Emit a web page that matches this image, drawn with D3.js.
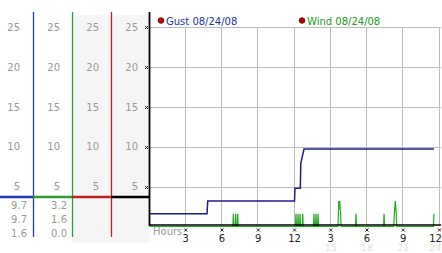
<!DOCTYPE html>
<html>
<head>
<meta charset="utf-8">
<script src="https://cdn.jsdelivr.net/npm/d3@7"></script>
<style>
  body { margin: 0; background: #fff; }
  svg { display: block; font-family: "DejaVu Sans", Verdana, sans-serif; }
</style>
</head>
<body>
<svg id="chart" width="442" height="253"></svg>
<script>
// y ticks shared by the side panel and the plot
var yTicks = [5, 10, 15, 20, 25];

// x axis: hours of the day
var hourTicks = [3, 6, 9, 12, 15, 18, 21, 24];
var hourLabels = ['3', '6', '9', '12', '3', '6', '9', '12'];
var hour24Labels = ['', '', '', '', '15', '18', '21', '24'];

// legend
var seriesNames = ['Gust 08/24/08', 'Wind 08/24/08'];

// side panel stats (current, max, min)
var gustStats = ['9.7', '9.7', '1.6'];
var windStats = ['3.2', '1.6', '0.0'];

// gust, [hour, mph]
var gust = [
  [0, 1.6], [4.76, 1.6], [4.82, 3.2], [12.0, 3.2], [12.04, 4.8],
  [12.48, 4.8], [12.52, 7.9], [12.62, 8.6], [12.79, 9.7], [23.54, 9.7]
];

// wind, [hour, mph]
var wind = [
  [0, 0],
  [6.9, 0], [6.94, 1.6], [6.98, 0], [7.09, 0], [7.13, 1.6], [7.17, 0],
  [7.26, 0], [7.30, 1.6], [7.34, 0],
  [12.08, 0], [12.12, 1.6], [12.16, 0], [12.25, 0], [12.29, 1.6], [12.33, 0],
  [12.42, 0], [12.46, 1.6], [12.5, 0], [12.64, 0], [12.68, 1.6], [12.72, 0],
  [13.57, 0], [13.61, 1.6], [13.65, 0], [13.74, 0], [13.78, 1.6], [13.82, 0],
  [13.91, 0], [13.95, 1.6], [13.99, 0],
  [15.6, 0], [15.63, 1.6], [15.66, 3.2], [15.7, 2.2], [15.74, 3.2],
  [15.78, 2.2], [15.82, 1.6], [15.85, 0],
  [17.05, 0], [17.09, 1.6], [17.13, 0],
  [19.37, 0], [19.41, 1.6], [19.45, 0],
  [20.22, 0], [20.26, 1.6], [20.34, 3.2], [20.42, 1.6], [20.46, 0],
  [23.5, 0], [23.54, 1.6]
];

var svg = d3.select('#chart');

var x = d3.scaleLinear().domain([0, 24]).range([149.5, 439.5]);
var y = d3.scaleLinear().domain([0, 25]).range([226.5, 27]);

var gray = '#999';

// ---- side panel ----
var colRight = [20, 60, 99, 138];
var colLine = [33, 72, 111, 149];
var colColor = ['#1f3cb8', '#2b9f2b', '#c01e1e', '#000'];

svg.append('rect')
  .attr('x', 72).attr('y', 15).attr('width', 77).attr('height', 228)
  .attr('fill', '#f5f5f5');

colRight.forEach(function(r) {
  svg.append('g').selectAll('text')
    .data(yTicks)
    .enter().append('text')
    .attr('x', r)
    .attr('y', function(d) { return y(d) + 3.7; })
    .attr('text-anchor', 'end')
    .attr('font-size', 10)
    .attr('fill', gray)
    .text(function(d) { return d; });
});

[gustStats, windStats].forEach(function(stats, i) {
  svg.append('g').selectAll('text')
    .data(stats)
    .enter().append('text')
    .attr('x', [27, 67][i])
    .attr('y', function(d, j) { return 208.5 + j * 14; })
    .attr('text-anchor', 'end')
    .attr('font-size', 10)
    .attr('fill', gray)
    .text(function(d) { return d; });
});

// coloured dividers
colLine.slice(0, 3).forEach(function(cx, i) {
  svg.append('line')
    .attr('x1', cx + 0.5).attr('x2', cx + 0.5)
    .attr('y1', 12).attr('y2', 237)
    .attr('stroke', colColor[i]).attr('stroke-width', 1.3);
});

colLine.forEach(function(cx, i) {
  var x0 = i ? colLine[i - 1] : 0;
  svg.append('line')
    .attr('x1', x0).attr('x2', cx)
    .attr('y1', 197).attr('y2', 197)
    .attr('stroke', colColor[i]).attr('stroke-width', 2.5);
});

// ---- plot ----
var grid = svg.append('g').attr('stroke', '#bbb').attr('stroke-width', 1);

grid.selectAll('.h')
  .data(yTicks)
  .enter().append('line')
  .attr('x1', 150).attr('x2', 441)
  .attr('y1', function(d) { return Math.round(y(d)) + 0.5; })
  .attr('y2', function(d) { return Math.round(y(d)) + 0.5; });

grid.selectAll('.v')
  .data(hourTicks)
  .enter().append('line')
  .attr('x1', function(d) { return Math.round(x(d)) - 0.5; })
  .attr('x2', function(d) { return Math.round(x(d)) - 0.5; })
  .attr('y1', y(25)).attr('y2', 225);

var line = d3.line()
  .x(function(d) { return x(d[0]); })
  .y(function(d) { return y(d[1]); });

svg.append('path')
  .datum(wind)
  .attr('d', line)
  .attr('fill', 'none')
  .attr('stroke', '#22aa22')
  .attr('stroke-width', 1.2);

svg.append('path')
  .datum(gust)
  .attr('d', line)
  .attr('fill', 'none')
  .attr('stroke', '#1c1c90')
  .attr('stroke-width', 1.5);

// axes
svg.append('line')
  .attr('x1', 149.5).attr('x2', 149.5).attr('y1', 12).attr('y2', 226)
  .attr('stroke', '#000').attr('stroke-width', 1.8);
svg.append('line')
  .attr('x1', 149).attr('x2', 441).attr('y1', 225).attr('y2', 225)
  .attr('stroke', '#000').attr('stroke-width', 1.4);

function marker(sel) {
  sel.append('path')
    .attr('d', 'M-1.5,-1.5L1.5,1.5M-1.5,1.5L1.5,-1.5')
    .attr('stroke', '#222')
    .attr('stroke-width', 1)
    .attr('fill', 'none');
}

svg.selectAll('.ymark')
  .data(yTicks)
  .enter().append('g')
  .attr('transform', function(d) { return 'translate(146.5,' + (Math.round(y(d)) + 0.5) + ')'; })
  .call(marker);

var xt = svg.selectAll('.xtick')
  .data(hourTicks)
  .enter().append('g')
  .attr('transform', function(d) { return 'translate(' + x(d) + ',0)'; });

xt.append('g').attr('transform', 'translate(0,230)').call(marker);

// last labels sit flush against the right edge
function labelX(d) { return d === 24 ? -4 : 0; }

xt.append('text')
  .attr('x', labelX)
  .attr('y', 242)
  .attr('text-anchor', 'middle')
  .attr('font-size', 10)
  .attr('fill', '#222')
  .text(function(d, i) { return hourLabels[i]; });

xt.append('text')
  .attr('x', labelX)
  .attr('y', 251)
  .attr('text-anchor', 'middle')
  .attr('font-size', 9.5)
  .attr('fill', '#e2e2e2')
  .text(function(d, i) { return hour24Labels[i]; });

svg.append('text')
  .attr('x', 153).attr('y', 234.5)
  .attr('font-size', 10)
  .attr('fill', gray)
  .text('Hours');

// legend
var legendX = [161, 302];
var legendColor = ['#2233aa', '#229922'];
seriesNames.forEach(function(name, i) {
  svg.append('circle')
    .attr('cx', legendX[i]).attr('cy', 20.5).attr('r', 2.8)
    .attr('fill', '#c00').attr('stroke', '#400').attr('stroke-width', 0.8);
  svg.append('text')
    .attr('x', legendX[i] + 5).attr('y', 24.5)
    .attr('font-size', 10)
    .attr('fill', legendColor[i])
    .text(name);
});
</script>
</body>
</html>
